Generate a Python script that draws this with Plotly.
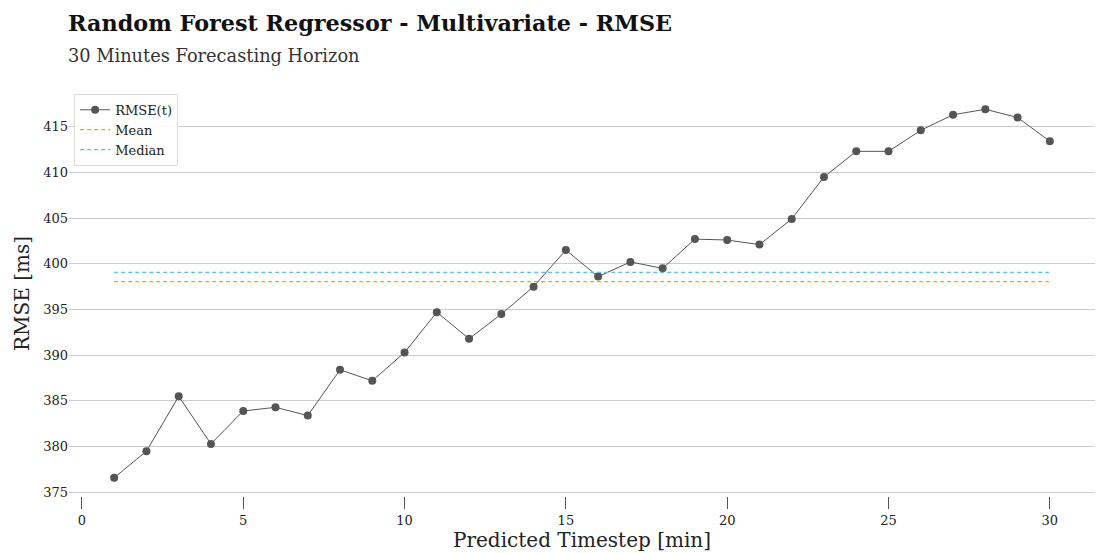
import numpy as np
import plotly.graph_objects as go

timesteps = list(range(1, 31))
rmse = [376.6, 379.5, 385.5, 380.3, 383.9, 384.3, 383.4, 388.4, 387.2, 390.3,
        394.7, 391.8, 394.5, 397.5, 401.5, 398.6, 400.2, 399.5, 402.7, 402.6,
        402.1, 404.9, 409.5, 412.3, 412.3, 414.6, 416.3, 416.9, 416.0, 413.4]
mean_val = float(np.mean(rmse))
median_val = float(np.median(rmse))
x_ticks = [0, 5, 10, 15, 20, 25, 30]
y_ticks = [375, 380, 385, 390, 395, 400, 405, 410, 415]

FONT = "DejaVu Serif"

fig = go.Figure()
fig.add_trace(go.Scatter(
    x=timesteps, y=rmse, mode="lines+markers", name="RMSE(t)",
    line=dict(color="#555555", width=1),
    marker=dict(color="#555555", size=8),
))
fig.add_trace(go.Scatter(
    x=[timesteps[0], timesteps[-1]], y=[mean_val, mean_val], mode="lines", name="Mean",
    line=dict(color="#F5A400", width=1.2, dash="4px,3px"),
))
fig.add_trace(go.Scatter(
    x=[timesteps[0], timesteps[-1]], y=[median_val, median_val], mode="lines", name="Median",
    line=dict(color="#5BBCF0", width=1.2, dash="4px,3px"),
))

fig.update_layout(
    width=1101, height=553,
    margin=dict(l=69, r=6, t=91, b=57),
    paper_bgcolor="white", plot_bgcolor="white",
    font=dict(family=FONT, color="#222222", size=13),
    showlegend=True,
    legend=dict(
        x=0.005, y=0.993, xanchor="left", yanchor="top",
        bgcolor="rgba(255,255,255,0.9)", bordercolor="#DDDDDD", borderwidth=1,
        font=dict(family=FONT, size=13, color="#222222"),
        itemwidth=30, tracegroupgap=0,
    ),
    xaxis=dict(
        range=[-0.4, 31.4], tickvals=x_ticks, ticktext=[str(v) for v in x_ticks],
        showgrid=False, zeroline=False, showline=False,
        ticks="outside", ticklen=12, tickwidth=1, tickcolor="#555555",
        tickfont=dict(family=FONT, size=13, color="#222222"),
        title=dict(text="Predicted Timestep [min]", font=dict(family=FONT, size=20, color="#222222"), standoff=6),
    ),
    yaxis=dict(
        range=[374.6, 418.9], tickvals=y_ticks, ticktext=[str(v) for v in y_ticks],
        showgrid=True, gridcolor="#CCCCCC", gridwidth=1,
        zeroline=False, showline=False, ticks="",
        tickfont=dict(family=FONT, size=13, color="#222222"),
        title=dict(text="RMSE [ms]", font=dict(family=FONT, size=20, color="#222222"), standoff=8),
    ),
    annotations=[
        dict(text="<b>Random Forest Regressor - Multivariate - RMSE</b>", xref="paper", yref="paper",
             x=0, xshift=-3, y=1, yshift=91 - 8, xanchor="left", yanchor="top", showarrow=False,
             font=dict(family=FONT, size=22.3, color="#111111")),
        dict(text="30 Minutes Forecasting Horizon", xref="paper", yref="paper",
             x=0, xshift=-3, y=1, yshift=91 - 43, xanchor="left", yanchor="top", showarrow=False,
             font=dict(family=FONT, size=17.8, color="#333333")),
    ],
)

fig.write_html("out.html")
